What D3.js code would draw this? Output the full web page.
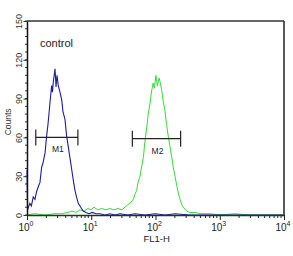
<!DOCTYPE html>
<html>
<head>
<meta charset="utf-8">
<script src="https://cdn.jsdelivr.net/npm/d3@7"></script>
<style>
  body { margin: 0; background: #fff; }
  svg { display: block; font-family: "Liberation Sans", Arial, sans-serif; }
</style>
</head>
<body>
<div id="chart"></div>
<script>
// FL1-H intensity / counts
var controlFL = [1.0, 1.02, 1.05, 1.11, 1.17, 1.25, 1.33, 1.41, 1.50, 1.59, 1.69, 1.77, 1.91, 2.02, 2.12, 2.28, 2.42, 2.49, 2.58, 2.73, 2.83, 2.93, 3.07, 3.26, 3.47, 3.63, 3.90, 4.12, 4.38, 4.67, 4.97, 5.29, 5.58, 5.89, 6.28, 6.68, 7.05, 7.51, 8.28, 9.23, 10.3, 11.9, 13.7, 16.3, 19.5, 23.4, 28.0, 37.2, 47.9, 68.5, 98.2, 140.5, 201, 344, 705, 2040, 10000];
var controlCounts = [35, 4, 6, 9, 7, 14, 12, 18, 22, 25, 37, 40, 48, 61, 70, 87, 100, 95, 104, 113, 99, 108, 100, 95, 89, 80, 74, 62, 53, 44, 35, 26, 19, 14, 9, 7, 5, 3, 2, 1, 2, 1, 1, 0, 1, 0, 1, 0, 1, 0, 1, 0, 1, 0, 0, 0, 0];

var sampleFL = [1.0, 1.33, 1.91, 2.73, 3.50, 4.35, 5.02, 5.78, 6.68, 7.72, 8.89, 9.9, 11.0, 12.7, 14.6, 16.9, 19.5, 22.6, 26.1, 30.1, 33.5, 37.2, 41.4, 45.1, 47.9, 50.9, 53.9, 57.5, 61.1, 64.9, 68.5, 73.1, 77.1, 82.0, 86.4, 91.9, 96.0, 101.3, 106.8, 114, 118.9, 124.2, 131.8, 140.0, 148.6, 157.7, 167.8, 178.5, 189.2, 201.3, 213.7, 226.6, 241, 256, 271, 305, 344, 412, 490, 705, 1006, 1720, 2950, 10000];
var sampleCounts = [0, 1, 0, 1, 1, 2, 3, 2, 4, 3, 5, 4, 6, 4, 5, 4, 5, 4, 5, 4, 6, 8, 10, 12, 16, 19, 26, 30, 38, 45, 57, 68, 78, 86, 95, 102, 98, 108, 100, 106, 102, 97, 88, 81, 70, 61, 53, 45, 37, 30, 23, 17, 12, 8, 6, 3, 2, 2, 1, 1, 0, 1, 0, 0];

var markerNames = ["M1", "M2"];
var markerFrom = [1.37, 43.6];
var markerTo = [6.2, 246];
var markerCount = [60, 59];

var yTicks = [0, 30, 60, 90, 120, 150];
var xDecades = [1, 10, 100, 1000, 10000];

var W = 293, H = 256;
var margin = { top: 21, right: 9, bottom: 41, left: 27 };

var svg = d3.select("#chart").append("svg")
  .attr("width", W)
  .attr("height", H);

var x = d3.scaleLog().domain([1, 10000]).range([margin.left, W - margin.right]);
var y = d3.scaleLinear().domain([0, 150]).range([H - margin.bottom, margin.top]);

// frame: top and right
svg.append("line")
  .attr("x1", x(1)).attr("x2", x(10000))
  .attr("y1", y(150)).attr("y2", y(150))
  .attr("stroke", "#666").attr("stroke-width", 2);
svg.append("line")
  .attr("x1", x(10000)).attr("x2", x(10000))
  .attr("y1", y(150)).attr("y2", y(0))
  .attr("stroke", "#222").attr("stroke-width", 1.5);

// histograms
var line = d3.line()
  .x(function(d) { return x(d[0]); })
  .y(function(d) { return y(d[1]); });

svg.append("path")
  .datum(d3.zip(sampleFL, sampleCounts))
  .attr("d", line)
  .attr("fill", "none")
  .attr("stroke", "#33dd33")
  .attr("stroke-width", 1);

svg.append("path")
  .datum(d3.zip(controlFL, controlCounts))
  .attr("d", line)
  .attr("fill", "none")
  .attr("stroke", "#1c1ca8")
  .attr("stroke-width", 1.1);

// y axis
var yMinor = d3.range(0, 151, 6);
svg.append("g").selectAll("line")
  .data(yMinor)
  .enter().append("line")
  .attr("x1", x(1) - 2).attr("x2", x(1))
  .attr("y1", function(d) { return y(d); })
  .attr("y2", function(d) { return y(d); })
  .attr("stroke", "#333");

var yAxis = svg.append("g")
  .attr("transform", "translate(" + x(1) + ",0)")
  .call(d3.axisLeft(y).tickValues(yTicks).tickSize(3.5).tickSizeOuter(0));
yAxis.select(".domain").attr("stroke", "#111").attr("stroke-width", 1.5);
yAxis.selectAll(".tick line").attr("stroke", "#333");
yAxis.selectAll(".tick text")
  .attr("x", 0).attr("dy", 0)
  .attr("transform", "translate(-5,0) rotate(-90)")
  .attr("text-anchor", "middle")
  .attr("font-size", 9)
  .attr("fill", "#333");

// x axis
var xMinor = [];
xDecades.slice(0, 4).forEach(function(dec) {
  [2, 3, 4, 5, 6, 7, 8, 9].forEach(function(k) { xMinor.push(dec * k); });
});
svg.append("g").selectAll("line")
  .data(xMinor)
  .enter().append("line")
  .attr("x1", function(d) { return x(d); })
  .attr("x2", function(d) { return x(d); })
  .attr("y1", y(0)).attr("y2", y(0) + 3)
  .attr("stroke", "#222");

var xAxis = svg.append("g")
  .attr("transform", "translate(0," + y(0) + ")")
  .call(d3.axisBottom(x).tickValues(xDecades).tickSize(5).tickSizeOuter(0).tickFormat(""));
xAxis.select(".domain").attr("stroke", "#1a3a1a").attr("stroke-width", 1.5);
xAxis.selectAll(".tick line").attr("stroke", "#222");

var xl = svg.append("g").selectAll("text")
  .data(xDecades)
  .enter().append("text")
  .attr("x", function(d) { return x(d) - 1; })
  .attr("y", y(0) + 16)
  .attr("text-anchor", "middle")
  .attr("font-size", 10)
  .attr("fill", "#222");
xl.append("tspan").text("10");
xl.append("tspan")
  .attr("dy", -5)
  .attr("font-size", 7)
  .text(function(d, i) { return i; });

svg.append("text")
  .attr("x", x(100) - 12)
  .attr("y", y(0) + 27)
  .attr("font-size", 9.5)
  .attr("fill", "#222")
  .text("FL1-H");

svg.append("text")
  .attr("transform", "translate(10.5," + (y(72)) + ") rotate(-90)")
  .attr("text-anchor", "middle")
  .attr("font-size", 8.5)
  .attr("fill", "#333")
  .text("Counts");

// markers
var mk = svg.append("g").selectAll("g")
  .data(markerNames)
  .enter().append("g");
mk.append("line")
  .attr("x1", function(d, i) { return x(markerFrom[i]); })
  .attr("x2", function(d, i) { return x(markerTo[i]); })
  .attr("y1", function(d, i) { return y(markerCount[i]); })
  .attr("y2", function(d, i) { return y(markerCount[i]); })
  .attr("stroke", "#222").attr("stroke-width", 1.2);
[markerFrom, markerTo].forEach(function(arr) {
  mk.append("line")
    .attr("x1", function(d, i) { return x(arr[i]); })
    .attr("x2", function(d, i) { return x(arr[i]); })
    .attr("y1", function(d, i) { return y(markerCount[i]) - 8; })
    .attr("y2", function(d, i) { return y(markerCount[i]) + 8; })
    .attr("stroke", "#222").attr("stroke-width", 1.2);
});
mk.append("text")
  .attr("x", function(d, i) { return (x(markerFrom[i]) + x(markerTo[i])) / 2 + 1; })
  .attr("y", function(d, i) { return y(markerCount[i]) + 15; })
  .attr("text-anchor", "middle")
  .attr("font-size", 8.5)
  .attr("fill", "#222")
  .text(function(d) { return d; });

svg.append("text")
  .attr("x", 40)
  .attr("y", 47)
  .attr("font-size", 11)
  .attr("fill", "#222")
  .text("control");
</script>
</body>
</html>
